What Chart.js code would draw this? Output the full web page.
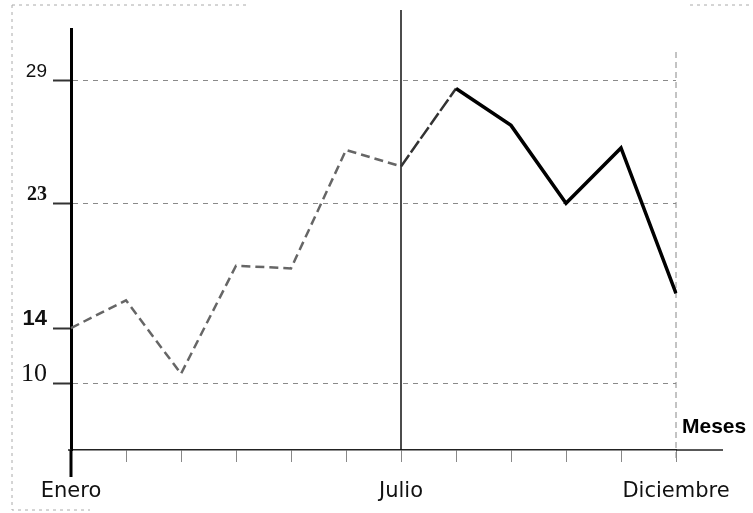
<!DOCTYPE html>
<html>
<head>
<meta charset="utf-8">
<script src="https://cdn.jsdelivr.net/npm/chart.js@4/dist/chart.umd.min.js"></script>
<style>
  body { margin: 0; background: #fff; }
  #wrap { width: 753px; height: 513px; }
</style>
</head>
<body>
<div id="wrap"><canvas id="chart" width="753" height="513"></canvas></div>
<script>
// data
var months = ['Enero', 'Febrero', 'Marzo', 'Abril', 'Mayo', 'Junio',
              'Julio', 'Agosto', 'Septiembre', 'Octubre', 'Noviembre', 'Diciembre'];
var values = [14, 16, 10.7, 18.5, 18.3, 25.6, 24.8, 28.6, 26.8, 23, 25.7, 16.5];
var xTickLabels = ['Enero', 'Julio', 'Diciembre'];
var yTicks = [10, 14, 23, 29];
var xTitle = 'Meses';

// the drawing is not to scale: above 23 the axis is stretched
var yBreak = 23;
var yStretch = 1.48;

var SANS = '"Liberation Sans", Arial, sans-serif';
var SERIF = '"Liberation Serif", "Times New Roman", serif';

class BrokenLinearScale extends Chart.LinearScale {
    _t(v){ return v <= yBreak ? v : yBreak + (v - yBreak) * yStretch; }
    _tInv(t){ return t <= yBreak ? t : yBreak + (t - yBreak) / yStretch; }
    getPixelForValue(value){
        var a = this._t(this.min), b = this._t(this.max);
        return this.getPixelForDecimal((this._t(value) - a) / (b - a));
    }
    getValueForPixel(pixel){
        var a = this._t(this.min), b = this._t(this.max);
        return this._tInv(a + this.getDecimalForPixel(pixel) * (b - a));
    }
}
BrokenLinearScale.id = 'brokenLinear';
BrokenLinearScale.defaults = Chart.LinearScale.defaults;
Chart.register(BrokenLinearScale);

//Fonts of the y labels differ in the original
function y_tick_font(ctx){
    var v = ctx.tick ? ctx.tick.value : 0;
    if(v == 14) return { family: SANS, size: 22, weight: 'bold' };
    if(v == 10) return { family: SERIF, size: 26 };
    if(v == 23) return { family: SERIF, size: 20, weight: 'bold' };
    return { family: SANS, size: 19 };
}

//Extra lines and the axis title
var extras = {
    id: 'extras',
    beforeDatasetsDraw: function(chart){
        var c = chart.ctx, area = chart.chartArea, x = chart.scales.x;
        var xJul = x.getPixelForValue(months.indexOf('Julio'));
        var xDic = x.getPixelForValue(months.indexOf('Diciembre'));
        c.save();
        // Julio line
        c.strokeStyle = '#111';
        c.lineWidth = 1.5;
        c.beginPath();
        c.moveTo(xJul, 10);
        c.lineTo(xJul, area.bottom);
        c.stroke();
        // Diciembre line
        c.strokeStyle = '#888';
        c.lineWidth = 1;
        c.setLineDash([6, 4]);
        c.beginPath();
        c.moveTo(xDic, area.top + 23);
        c.lineTo(xDic, area.bottom + 12);
        c.stroke();
        // frame of the scan
        c.strokeStyle = '#aaa';
        c.setLineDash([3, 4]);
        c.beginPath();
        c.moveTo(12, 5); c.lineTo(12, 510); c.lineTo(90, 510);
        c.moveTo(12, 5); c.lineTo(250, 5);
        c.moveTo(690, 5); c.lineTo(753, 5);
        c.stroke();
        c.setLineDash([]);
        // axis extensions
        c.strokeStyle = '#222';
        c.lineWidth = 1.5;
        c.beginPath();
        c.moveTo(area.left - 3, area.bottom);
        c.lineTo(area.left, area.bottom);
        c.moveTo(area.right, area.bottom);
        c.lineTo(723, area.bottom);
        c.stroke();
        c.lineWidth = 3;
        c.strokeStyle = '#000';
        c.beginPath();
        c.moveTo(area.left, area.bottom);
        c.lineTo(area.left, 477);
        c.stroke();
        // title
        c.fillStyle = '#000';
        c.font = 'bold 21px ' + SANS;
        c.textBaseline = 'middle';
        c.textAlign = 'left';
        c.fillText(xTitle, area.right + 6, 427);
        c.restore();
    }
};

new Chart(document.getElementById('chart'), {
    type: 'line',
    data: {
        labels: months,
        datasets: [{
            data: values,
            borderColor: '#000',
            borderWidth: 3,
            pointRadius: 0,
            tension: 0,
            segment: {
                borderColor: function(ctx){
                    if(ctx.p0DataIndex < 6) return '#666';
                    if(ctx.p0DataIndex == 6) return '#333';
                    return '#000';
                },
                borderDash: function(ctx){
                    if(ctx.p0DataIndex < 6) return [9, 5];
                    if(ctx.p0DataIndex == 6) return [14, 3];
                    return [];
                },
                borderWidth: function(ctx){
                    return ctx.p0DataIndex < 7 ? 2.5 : 3.5;
                }
            }
        }]
    },
    options: {
        responsive: false,
        animation: false,
        devicePixelRatio: 1,
        layout: { padding: { top: 29, right: 77, left: 0, bottom: 0 } },
        plugins: { legend: { display: false }, tooltip: { enabled: false } },
        scales: {
            x: {
                type: 'category',
                offset: false,
                afterFit: function(s){ s.height = 63; },
                border: { display: true, color: '#222', width: 1.5 },
                grid: {
                    drawOnChartArea: false,
                    drawTicks: true,
                    tickLength: 12,
                    tickColor: '#888',
                    tickWidth: 1
                },
                ticks: {
                    autoSkip: false,
                    maxRotation: 0,
                    padding: 17,
                    color: '#111',
                    font: { family: '"DejaVu Sans", sans-serif', size: 21 },
                    callback: function(v, i){
                        var name = months[i];
                        return xTickLabels.indexOf(name) >= 0 ? name : '';
                    }
                }
            },
            y: {
                type: 'brokenLinear',
                min: 5.2,
                max: 31.5,
                afterFit: function(s){ s.width = 71; },
                afterBuildTicks: function(s){
                    s.ticks = yTicks.map(function(v){ return { value: v }; });
                },
                border: { display: true, color: '#000', width: 3, dash: [5, 5] },
                grid: {
                    color: function(ctx){
                        return ctx.tick && ctx.tick.value == 14 ? 'rgba(0,0,0,0)' : '#8a8a8a';
                    },
                    lineWidth: 1,
                    tickLength: 18,
                    tickColor: '#333',
                    tickWidth: 2,
                    tickBorderDash: []
                },
                ticks: {
                    padding: 6,
                    labelOffset: -9,
                    color: '#111',
                    font: y_tick_font,
                    callback: function(v){ return String(v); }
                }
            }
        }
    },
    plugins: [extras]
});
</script>
</body>
</html>
